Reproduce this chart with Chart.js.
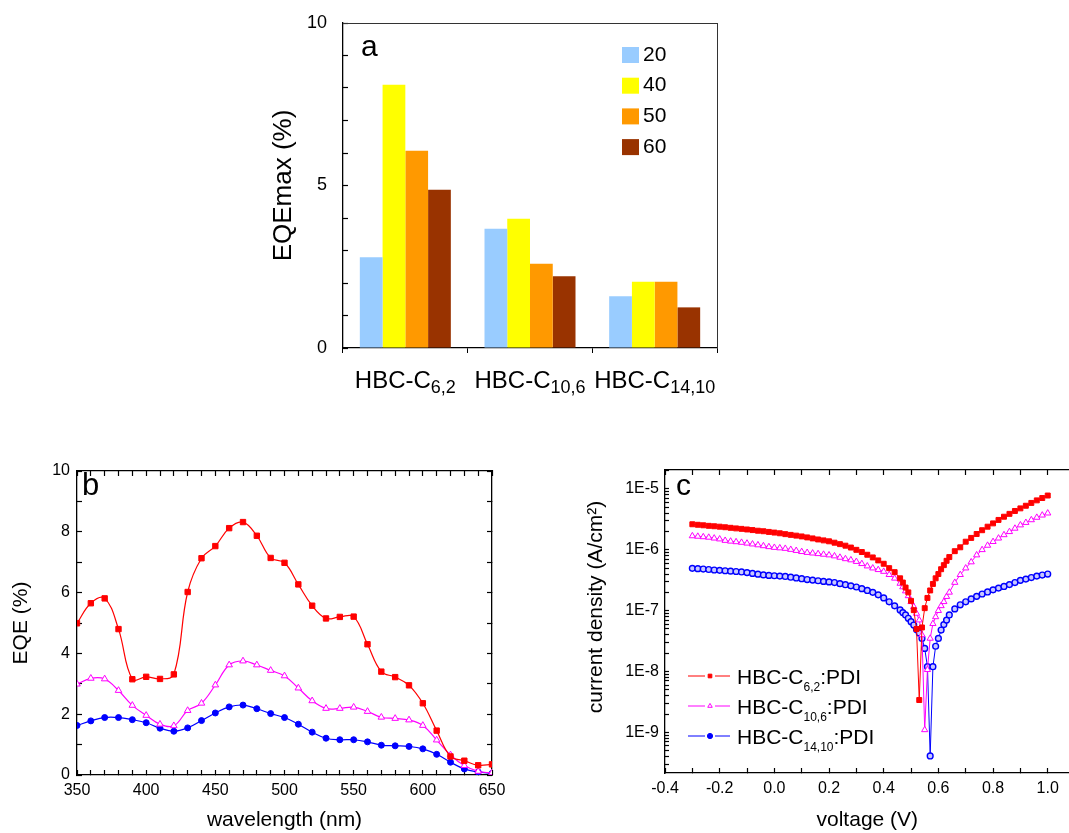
<!DOCTYPE html>
<html>
<head>
<meta charset="utf-8">
<title>EQE and J-V of HBC:PDI blends</title>
<script src="https://cdn.jsdelivr.net/npm/chart.js@4.4.1/dist/chart.umd.min.js"></script>
<style>
  html, body { margin: 0; padding: 0; background: #fff; overflow: hidden; }
  #page { position: relative; width: 1069px; height: 833px; overflow: hidden; }
  canvas { position: absolute; }
</style>
</head>
<body>
<div id="page">
  <canvas id="chartA" width="470" height="410" style="left:260px;top:0px"></canvas>
  <canvas id="chartB" width="520" height="393" style="left:0px;top:440px"></canvas>
  <canvas id="chartC" width="530" height="393" style="left:545px;top:440px"></canvas>
</div>
<script>
// ---- panel a : EQEmax per donor, 4 blend ratios
var groups = ["HBC-C6,2", "HBC-C10,6", "HBC-C14,10"];
var groupParts = [["HBC-C", "6,2"], ["HBC-C", "10,6"], ["HBC-C", "14,10"]];
var ratios = ["20", "40", "50", "60"];
var ratioColors = ["#99CCFF", "#FFFF00", "#FF9900", "#993300"];
var eqe20 = [2.79, 3.67, 1.59];
var eqe40 = [8.10, 3.98, 2.04];
var eqe50 = [6.07, 2.59, 2.04];
var eqe60 = [4.87, 2.21, 1.25];

// ---- panel b : EQE spectra
var wavelength = [350, 360, 370, 380, 390, 400, 410, 420, 430, 440, 450, 460, 470, 480, 490, 500,
    510, 520, 530, 540, 550, 560, 570, 580, 590, 600, 610, 620, 630, 640, 650];
var eqeC6 = [4.99, 5.65, 5.81, 4.80, 3.15, 3.23, 3.16, 3.31, 6.02, 7.13, 7.53, 8.12, 8.32, 7.87, 7.14, 6.98,
    6.27, 5.57, 5.15, 5.20, 5.21, 4.30, 3.40, 3.22, 2.95, 2.36, 1.46, 0.61, 0.47, 0.32, 0.35];
var eqeC10 = [2.99, 3.18, 3.16, 2.78, 2.29, 1.96, 1.67, 1.62, 2.12, 2.36, 2.96, 3.62, 3.75, 3.62, 3.44, 3.26,
    2.86, 2.44, 2.19, 2.19, 2.23, 2.09, 1.90, 1.86, 1.81, 1.63, 1.15, 0.66, 0.31, 0.12, 0.07];
var eqeC14 = [1.63, 1.78, 1.89, 1.89, 1.82, 1.72, 1.54, 1.44, 1.55, 1.79, 2.04, 2.24, 2.30, 2.18, 2.02, 1.89,
    1.67, 1.41, 1.21, 1.16, 1.16, 1.09, 0.98, 0.96, 0.94, 0.86, 0.68, 0.42, 0.20, 0.10, 0.05];

// ---- panel c : dark J-V curves
var voltage = [-0.30, -0.28, -0.26, -0.24, -0.22, -0.20, -0.18, -0.16, -0.14, -0.12, -0.10, -0.08, -0.06,
    -0.04, -0.02, 0.00, 0.02, 0.04, 0.06, 0.08, 0.10, 0.12, 0.14, 0.16, 0.18, 0.20, 0.22, 0.24, 0.26,
    0.28, 0.30, 0.32, 0.34, 0.36, 0.38, 0.40, 0.42, 0.44, 0.46,
    0.47, 0.48, 0.49, 0.50, 0.51, 0.52, 0.53, 0.54, 0.55, 0.56, 0.57, 0.58, 0.59, 0.60, 0.61, 0.62, 0.63, 0.64,
    0.66, 0.68, 0.70, 0.72, 0.74, 0.76, 0.78, 0.80, 0.82, 0.84, 0.86, 0.88, 0.90, 0.92, 0.94, 0.96, 0.98, 1.00];
var jC6 = [2.63e-6, 2.58e-6, 2.53e-6, 2.48e-6, 2.44e-6, 2.40e-6, 2.35e-6, 2.30e-6, 2.25e-6, 2.21e-6, 2.16e-6,
    2.11e-6, 2.06e-6, 2.02e-6, 1.97e-6, 1.92e-6, 1.87e-6, 1.81e-6, 1.76e-6, 1.71e-6, 1.66e-6, 1.60e-6,
    1.54e-6, 1.48e-6, 1.43e-6, 1.38e-6, 1.31e-6, 1.24e-6, 1.17e-6, 1.09e-6, 1.00e-6, 9.2e-7, 8.3e-7,
    7.5e-7, 6.7e-7, 5.9e-7, 5.0e-7, 4.3e-7, 3.4e-7,
    2.9e-7, 2.4e-7, 2.0e-7, 1.45e-7, 1.02e-7, 5.0e-8, 3.4e-9, 5.3e-8, 1.1e-7, 1.62e-7, 2.15e-7, 2.75e-7,
    3.4e-7, 4.0e-7, 4.8e-7, 5.6e-7, 6.6e-7, 7.6e-7,
    9.5e-7, 1.1e-6, 1.36e-6, 1.57e-6, 1.82e-6, 2.1e-6, 2.4e-6, 2.72e-6, 3.1e-6, 3.5e-6, 3.9e-6, 4.35e-6,
    4.8e-6, 5.3e-6, 5.9e-6, 6.5e-6, 7.1e-6, 7.8e-6];
var jC10 = [1.69e-6, 1.66e-6, 1.63e-6, 1.60e-6, 1.55e-6, 1.50e-6, 1.42e-6, 1.38e-6, 1.35e-6, 1.32e-6, 1.28e-6,
    1.24e-6, 1.20e-6, 1.16e-6, 1.12e-6, 1.09e-6, 1.07e-6, 1.05e-6, 1.01e-6, 9.7e-7, 9.3e-7, 9.0e-7,
    8.8e-7, 8.6e-7, 8.4e-7, 8.2e-7, 7.9e-7, 7.5e-7, 7.1e-7, 6.8e-7, 6.4e-7, 5.9e-7, 5.4e-7, 5.0e-7,
    4.7e-7, 4.4e-7, 3.9e-7, 3.4e-7, 2.8e-7,
    2.45e-7, 2.1e-7, 1.75e-7, 1.4e-7, 1.16e-7, 9.0e-8, 7.0e-8, 4.0e-8, 1.1e-9, 1.07e-8, 3.5e-8, 6.1e-8,
    7.9e-8, 1.0e-7, 1.2e-7, 1.4e-7, 1.7e-7, 2.0e-7,
    2.9e-7, 3.9e-7, 5.0e-7, 6.3e-7, 8.2e-7, 1.0e-6, 1.18e-6, 1.36e-6, 1.55e-6, 1.76e-6, 1.98e-6, 2.25e-6,
    2.55e-6, 2.8e-6, 3.1e-6, 3.4e-6, 3.7e-6, 4.0e-6];
var jC14 = [4.96e-7, 4.9e-7, 4.83e-7, 4.75e-7, 4.66e-7, 4.6e-7, 4.53e-7, 4.46e-7, 4.4e-7, 4.33e-7, 4.22e-7,
    4.1e-7, 3.98e-7, 3.87e-7, 3.8e-7, 3.75e-7, 3.7e-7, 3.65e-7, 3.55e-7, 3.45e-7, 3.35e-7, 3.25e-7,
    3.18e-7, 3.1e-7, 3.03e-7, 2.97e-7, 2.9e-7, 2.78e-7, 2.67e-7, 2.56e-7, 2.45e-7, 2.3e-7, 2.15e-7,
    2.0e-7, 1.82e-7, 1.62e-7, 1.4e-7, 1.2e-7, 1.03e-7,
    9.3e-8, 8.5e-8, 7.5e-8, 6.6e-8, 5.8e-8, 4.9e-8, 4.3e-8, 3.5e-8, 2.4e-8, 1.2e-8, 4.1e-10, 1.2e-8,
    2.6e-8, 3.5e-8, 4.8e-8, 5.9e-8, 7.0e-8, 8.5e-8,
    1.07e-7, 1.25e-7, 1.4e-7, 1.56e-7, 1.72e-7, 1.88e-7, 2.03e-7, 2.2e-7, 2.35e-7, 2.5e-7, 2.68e-7, 2.9e-7,
    3.15e-7, 3.3e-7, 3.5e-7, 3.7e-7, 3.85e-7, 4.0e-7];
var jDecades = [1e-9, 1e-8, 1e-7, 1e-6, 1e-5];
var jDecadeLabels = ["1E-9", "1E-8", "1E-7", "1E-6", "1E-5"];
var seriesNames = [["HBC-C", "6,2", ":PDI"], ["HBC-C", "10,6", ":PDI"], ["HBC-C", "14,10", ":PDI"]];
var seriesColors = ["#FF0000", "#FF00FF", "#0000FF"];

var FAM = '"Liberation Sans", Arial, Helvetica, sans-serif';
Chart.defaults.font.family = FAM;
Chart.defaults.color = "#000";
Chart.defaults.animation = false;
Chart.defaults.responsive = false;
Chart.defaults.plugins.legend.display = false;
Chart.defaults.plugins.tooltip.enabled = false;

// force an axis box size and drop the label overhang padding
function fitTo(w, h) {
    return function (scale) {
        if (w !== null) scale.width = w;
        if (h !== null) scale.height = h;
        scale.paddingLeft = 0;
        scale.paddingRight = 0;
        scale.paddingTop = 0;
        scale.paddingBottom = 0;
    };
}

// ticks pointing into the plot
function inTicks(len) {
    return { drawOnChartArea: false, drawTicks: true, tickLength: -len, tickColor: "#000", tickWidth: 1.2 };
}

// text with a subscript part, e.g. HBC-C + 6,2 + :PDI
function drawRich(ctx, x, y, parts, big, small, drop, align) {
    ctx.font = big + "px " + FAM;
    var w0 = ctx.measureText(parts[0]).width;
    var w2 = parts[2] ? ctx.measureText(parts[2]).width : 0;
    ctx.font = small + "px " + FAM;
    var w1 = ctx.measureText(parts[1]).width;
    var x0 = align === "center" ? x - (w0 + w1 + w2) / 2 : x;
    ctx.textAlign = "left";
    ctx.textBaseline = "alphabetic";
    ctx.font = big + "px " + FAM;
    ctx.fillText(parts[0], x0, y);
    ctx.font = small + "px " + FAM;
    ctx.fillText(parts[1], x0 + w0, y + drop);
    if (parts[2]) {
        ctx.font = big + "px " + FAM;
        ctx.fillText(parts[2], x0 + w0 + w1, y);
    }
}

// ================= panel a
var panelA = {
    id: "panelA",
    afterDraw: function (chart) {
        var ctx = chart.ctx;
        var xs = chart.scales.x;
        ctx.save();
        ctx.fillStyle = "#000";
        groupParts.forEach(function (p, i) {
            drawRich(ctx, xs.getPixelForValue(i), 388, p, 24, 18, 5, "center");
        });
        chart.data.datasets.forEach(function (ds, i) {
            var y = 47 + i * 30.7;
            ctx.fillStyle = ds.backgroundColor;
            ctx.fillRect(362, y, 17, 16);
            ctx.fillStyle = "#000";
            ctx.font = "21px " + FAM;
            ctx.textAlign = "left";
            ctx.textBaseline = "middle";
            ctx.fillText(ds.label, 383, y + 8);
        });
        ctx.font = "30px " + FAM;
        ctx.textBaseline = "alphabetic";
        ctx.fillText("a", 101, 56);
        ctx.restore();
    }
};

var eqeByRatio = [eqe20, eqe40, eqe50, eqe60];

new Chart(document.getElementById("chartA"), {
    type: "bar",
    data: {
        labels: groups,
        datasets: ratios.map(function (r, i) {
            return { label: r, data: eqeByRatio[i], backgroundColor: ratioColors[i], borderWidth: 0 };
        })
    },
    options: {
        layout: { padding: { top: 23, right: 13, left: 0, bottom: 0 } },
        datasets: { bar: { categoryPercentage: 0.73, barPercentage: 1 } },
        scales: {
            x: {
                position: "bottom",
                ticks: { display: false },
                grid: { drawOnChartArea: false, drawTicks: true, tickLength: 5, tickColor: "#000", offset: true },
                border: { color: "#000", width: 1.3 },
                afterFit: fitTo(null, 62)
            },
            y: {
                min: 0, max: 10,
                ticks: {
                    stepSize: 1, autoSkip: false, padding: 21, font: { size: 18 },
                    callback: function (v) { return v % 5 === 0 ? String(v) : ""; }
                },
                grid: inTicks(5),
                border: { color: "#000", width: 1.3 },
                title: { display: true, text: "EQEmax (%)", font: { size: 26 }, padding: { top: 8, bottom: 0 } },
                afterFit: fitTo(83, null)
            },
            x2: {
                type: "category", position: "top",
                ticks: { display: false }, grid: { display: false },
                border: { color: "#333", width: 1 },
                afterFit: fitTo(null, 0)
            },
            y2: {
                type: "linear", position: "right", min: 0, max: 10,
                ticks: { display: false }, grid: { display: false },
                border: { color: "#333", width: 1 },
                afterFit: fitTo(0, null)
            }
        }
    },
    plugins: [panelA]
});

// ================= panel b
var panelB = {
    id: "panelB",
    afterDraw: function (chart) {
        var ctx = chart.ctx;
        ctx.save();
        ctx.fillStyle = "#000";
        ctx.font = "31px " + FAM;
        ctx.textAlign = "left";
        ctx.textBaseline = "alphabetic";
        ctx.fillText("b", 82, 55);
        ctx.restore();
    }
};

function toXY(xs, ys) {
    return xs.map(function (x, i) { return { x: x, y: ys[i] }; });
}

new Chart(document.getElementById("chartB"), {
    type: "line",
    data: {
        datasets: [
            {
                data: toXY(wavelength, eqeC6), borderColor: "#FF0000", borderWidth: 1.2, tension: 0.4,
                pointStyle: "rect", pointRadius: 3.8, pointBackgroundColor: "#FF0000",
                pointBorderColor: "#FF0000", pointBorderWidth: 1
            },
            {
                data: toXY(wavelength, eqeC10), borderColor: "#FF00FF", borderWidth: 1.2, tension: 0.4,
                pointStyle: "triangle", pointRadius: 3.8, pointBackgroundColor: "#FFFFFF",
                pointBorderColor: "#FF00FF", pointBorderWidth: 1
            },
            {
                data: toXY(wavelength, eqeC14), borderColor: "#0000FF", borderWidth: 1.2, tension: 0.4,
                pointStyle: "circle", pointRadius: 3, pointBackgroundColor: "#0000FF",
                pointBorderColor: "#0000FF", pointBorderWidth: 1
            }
        ]
    },
    options: {
        layout: { padding: { top: 31, right: 28, left: 0, bottom: 0 } },
        scales: {
            x: {
                type: "linear", position: "bottom", min: 350, max: 650,
                ticks: {
                    stepSize: 10, autoSkip: false, maxRotation: 0, padding: 11, font: { size: 16 },
                    callback: function (v) { return v % 50 === 0 ? String(v) : ""; }
                },
                grid: inTicks(5),
                border: { color: "#000", width: 1.3 },
                title: { display: true, text: "wavelength (nm)", font: { size: 21 }, padding: { top: 0, bottom: 0 } },
                afterFit: fitTo(null, 58)
            },
            y: {
                min: 0, max: 10,
                ticks: {
                    stepSize: 1, autoSkip: false, padding: 12, font: { size: 16 },
                    callback: function (v) { return v % 2 === 0 ? String(v) : ""; }
                },
                grid: inTicks(5),
                border: { color: "#000", width: 1.3 },
                title: { display: true, text: "EQE (%)", font: { size: 21 }, padding: { top: 9, bottom: 0 } },
                afterFit: fitTo(77, null)
            },
            x2: {
                type: "linear", position: "top", min: 350, max: 650,
                ticks: { display: false, stepSize: 10 },
                grid: inTicks(5),
                border: { color: "#000", width: 1.3 },
                afterFit: fitTo(null, 0)
            },
            y2: {
                type: "linear", position: "right", min: 0, max: 10,
                ticks: { display: false, stepSize: 1 },
                grid: inTicks(5),
                border: { color: "#000", width: 1.3 },
                afterFit: fitTo(0, null)
            }
        }
    },
    plugins: [panelB]
});

// ================= panel c
var pointStyles = [
    { pointStyle: "rect", radius: 3.5, fill: "#FF0000" },
    { pointStyle: "triangle", radius: 3.6, fill: "#FFFFFF" },
    { pointStyle: "circle", radius: 2.9, fill: "#C8C8FF" }
];

var panelC = {
    id: "panelC",
    afterDraw: function (chart) {
        var ctx = chart.ctx;
        ctx.save();
        ctx.fillStyle = "#000";
        ctx.font = "30px " + FAM;
        ctx.textAlign = "left";
        ctx.textBaseline = "alphabetic";
        ctx.fillText("c", 131, 55);

        // y axis title, set off-centre like the original
        ctx.save();
        ctx.translate(51, 167);
        ctx.rotate(-Math.PI / 2);
        ctx.font = "21px " + FAM;
        ctx.textAlign = "center";
        ctx.textBaseline = "middle";
        ctx.fillText("current density (A/cm\u00B2)", 0, 0);
        ctx.restore();

        // legend: line - marker - line, label with subscript
        seriesNames.forEach(function (name, i) {
            var y = 236 + i * 30;
            ctx.strokeStyle = seriesColors[i];
            ctx.lineWidth = 1;
            ctx.beginPath();
            ctx.moveTo(143, y); ctx.lineTo(160, y);
            ctx.moveTo(170, y); ctx.lineTo(185, y);
            ctx.stroke();
            ctx.fillStyle = i === 2 ? seriesColors[i] : pointStyles[i].fill;
            Chart.helpers.drawPoint(ctx, {
                pointStyle: pointStyles[i].pointStyle, radius: 2.6,
                rotation: 0, borderWidth: 1
            }, 165, y);
            ctx.fillStyle = "#000";
            drawRich(ctx, 192, y + 7.5, name, 21, 12, 7, "left");
        });
        ctx.restore();
    }
};

var jMin = 2.15e-10;
var jMax = 2.05e-5;

function logTicks(scale) {
    var list = [];
    for (var e = -10; e <= -5; e++) {
        for (var m = 1; m <= 9; m++) {
            var v = Number((m * Math.pow(10, e)).toPrecision(3));
            if (v >= jMin && v <= jMax) list.push({ value: v, major: m === 1 });
        }
    }
    scale.ticks = list;
}

function decadeLabel(v) {
    for (var i = 0; i < jDecades.length; i++) {
        if (Math.abs(v - jDecades[i]) / jDecades[i] < 1e-6) return jDecadeLabels[i];
    }
    return "";
}

function voltLabel(v) {
    var k = Math.round(v * 10);
    return k % 2 === 0 ? (k / 10).toFixed(1) : "";
}

var jSeries = [jC6, jC10, jC14];

new Chart(document.getElementById("chartC"), {
    type: "line",
    data: {
        datasets: jSeries.map(function (js, i) {
            return {
                label: seriesNames[i].join(""),
                data: toXY(voltage, js),
                borderColor: seriesColors[i], borderWidth: 1, tension: 0,
                pointStyle: pointStyles[i].pointStyle, pointRadius: pointStyles[i].radius,
                pointBackgroundColor: pointStyles[i].fill, pointBorderColor: seriesColors[i],
                pointBorderWidth: i === 2 ? 1.4 : 1
            };
        })
    },
    options: {
        layout: { padding: { top: 30, right: 0, left: 0, bottom: 0 } },
        scales: {
            x: {
                type: "linear", position: "bottom", min: -0.4, max: 1.08,
                ticks: {
                    stepSize: 0.1, includeBounds: false, autoSkip: false, maxRotation: 0,
                    padding: 11, font: { size: 16 }, callback: voltLabel
                },
                grid: inTicks(5),
                border: { color: "#000", width: 1.3 },
                title: { display: true, text: "voltage (V)", font: { size: 21 }, padding: { top: 0, bottom: 0 } },
                afterFit: fitTo(null, 60)
            },
            y: {
                type: "logarithmic", min: jMin, max: jMax,
                afterBuildTicks: logTicks,
                ticks: { autoSkip: false, padding: 10, font: { size: 16 }, callback: decadeLabel },
                grid: inTicks(4),
                border: { color: "#000", width: 1.3 },
                afterFit: fitTo(120, null)
            },
            x2: {
                type: "linear", position: "top", min: -0.4, max: 1.08,
                ticks: { display: false, stepSize: 0.1, includeBounds: false },
                grid: inTicks(5),
                border: { color: "#000", width: 1.3 },
                afterFit: fitTo(null, 0)
            }
        }
    },
    plugins: [panelC]
});
</script>
</body>
</html>
